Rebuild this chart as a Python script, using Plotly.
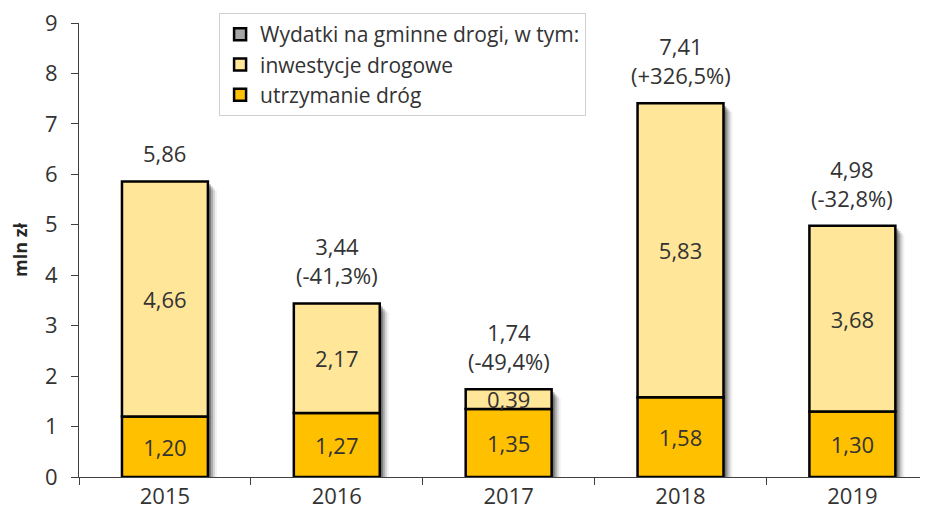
import plotly.graph_objects as go

years = ["2015", "2016", "2017", "2018", "2019"]
utrzymanie = [1.20, 1.27, 1.35, 1.58, 1.30]
inwestycje = [4.66, 2.17, 0.39, 5.83, 3.68]
totals = [5.86, 3.44, 1.74, 7.41, 4.98]
changes = [None, -41.3, -49.4, 326.5, -32.8]

name_total = "Wydatki na gminne drogi, w tym:"
name_inw = "inwestycje drogowe"
name_utr = "utrzymanie dróg"

FONT = "Open Sans"
TXT = "#333333"
BAR_W = 0.5
X_RANGE = [-0.5, 4.44]
Y_RANGE = [0, 9]
FIG_W, FIG_H = 920, 509
M_L, M_R, M_T, M_B = 71, 0, 15, 40
PLOT_W = FIG_W - M_L - M_R
PLOT_H = FIG_H - M_T - M_B
px_x = (X_RANGE[1] - X_RANGE[0]) / PLOT_W
px_y = (Y_RANGE[1] - Y_RANGE[0]) / PLOT_H
xpos = list(range(len(years)))

fig = go.Figure()

# soft drop shadow layers (offset in pixels, opacity)
for d, a in [(3, 0.30), (5, 0.20), (7, 0.12), (9, 0.06)]:
    fig.add_trace(go.Bar(
        x=xpos, y=totals, base=[-d * px_y] * len(years),
        width=[BAR_W] * len(years), offset=[-BAR_W / 2 + d * px_x] * len(years),
        marker=dict(color=f"rgba(0,0,0,{a})", line=dict(width=0)),
        showlegend=False, hoverinfo="skip"))

fig.add_trace(go.Bar(
    x=xpos, y=[None] * len(years), name=name_total, legendrank=1,
    marker=dict(color="#A6A6A6", line=dict(color="black", width=2.5))))

fig.add_trace(go.Bar(
    x=xpos, y=utrzymanie, base=[0] * len(years), name=name_utr, legendrank=3,
    width=BAR_W,
    marker=dict(color="#FFC000", line=dict(color="black", width=2.5)),
    texttemplate="%{y:.2f}", textposition="inside", insidetextanchor="middle",
    textfont=dict(family=FONT, size=22, color=TXT)))

fig.add_trace(go.Bar(
    x=xpos, y=inwestycje, base=utrzymanie, name=name_inw, legendrank=2,
    width=BAR_W,
    marker=dict(color="#FFE699", line=dict(color="black", width=2.5)),
    texttemplate="%{y:.2f}", textposition="inside", insidetextanchor="middle",
    textfont=dict(family=FONT, size=22, color=TXT)))

def fmt(v):
    return f"{v:.2f}".replace(".", ",")

for i, (t, c) in enumerate(zip(totals, changes)):
    txt = fmt(t)
    if c is not None:
        txt += "<br>(" + ("+" if c > 0 else "") + f"{c:.1f}".replace(".", ",") + "%)"
    fig.add_annotation(x=i, y=t, xref="x", yref="y", text=txt, showarrow=False,
                       yanchor="bottom", yshift=11,
                       font=dict(family=FONT, size=22, color=TXT))

fig.update_layout(
    width=FIG_W, height=FIG_H,
    margin=dict(l=M_L, r=M_R, t=M_T, b=M_B),
    barmode="overlay",
    separators=", ",
    paper_bgcolor="white", plot_bgcolor="white",
    font=dict(family=FONT, size=22, color=TXT),
    uniformtext=dict(minsize=22, mode="show"),
    legend=dict(
        x=0.165, y=1.022, xanchor="left", yanchor="top",
        bgcolor="white", bordercolor="#D0D0D0", borderwidth=1,
        font=dict(family=FONT, size=21, color=TXT),
        traceorder="normal", itemclick=False),
    xaxis=dict(
        range=X_RANGE, tickmode="array", tickvals=xpos, ticktext=years,
        showline=True, linecolor="#404040", automargin=False,
        linewidth=1, ticks="", showgrid=False, zeroline=False,
        tickfont=dict(family=FONT, size=22, color=TXT)),
    xaxis2=dict(
        range=X_RANGE, overlaying="x", anchor="y", side="bottom",
        tickmode="array", tickvals=[v + 0.5 for v in [-1] + xpos],
        showticklabels=False, ticks="outside", ticklen=7, tickcolor="#404040",
        showgrid=False, zeroline=False, showline=False, automargin=False),
    yaxis=dict(
        range=Y_RANGE, dtick=1, showline=True, linecolor="#404040", linewidth=1,
        ticks="outside", ticklen=7, tickcolor="#404040", showgrid=False,
        zeroline=False, ticklabelstandoff=9, automargin=False,
        ticklabeloverflow="allow",
        tickfont=dict(family=FONT, size=22, color=TXT),
        title=dict(text="<b>mln zł</b>", standoff=14,
                   font=dict(family=FONT, size=18, color="#262626"))),
)

# invisible trace so that the overlay axis draws the category-boundary ticks
fig.add_trace(go.Scatter(x=[X_RANGE[0]], y=[None], xaxis="x2", yaxis="y",
                         showlegend=False, hoverinfo="skip"))

fig.write_html("out.html")
